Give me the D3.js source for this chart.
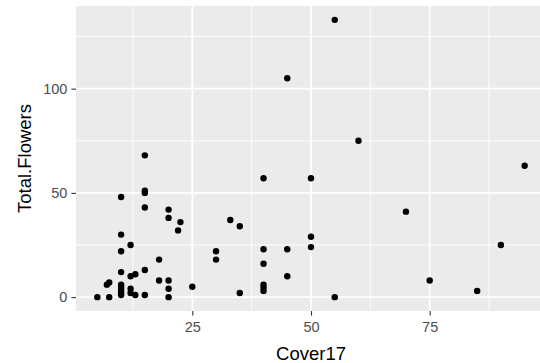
<!DOCTYPE html>
<html>
<head>
<meta charset="utf-8">
<script src="https://cdn.jsdelivr.net/npm/d3@7"></script>
<style>
  html, body { margin: 0; padding: 0; background: #fff; overflow: hidden; }
  svg { display: block; font-family: "Liberation Sans", Arial, sans-serif; }
  .tick-label { fill: #4d4d4d; font-size: 14.5px; }
  .axis-title { fill: #000; font-size: 18.5px; }
</style>
</head>
<body>
<div id="chart"></div>
<script>
const W = 540, H = 363;
const M = { top: 6, right: -6, bottom: 52, left: 76 };

// (Cover17 vs Total.Flowers).
const cover17 = [
  5, 7.5, 7, 7.5,
  10, 10, 10, 10, 10, 10, 10, 10, 10, 10,
  12, 12, 13, 12, 12, 13,
  15, 15, 15, 15, 15, 15,
  18, 18,
  20, 20, 20, 20, 20,
  22, 22.5,
  25, 30, 30, 33, 35, 35,
  40, 40, 40, 40, 40, 40,
  45, 45, 45,
  50, 50, 50,
  55, 55,
  60, 70, 75, 85, 90, 95
];
const totalFlowers = [
  0, 0, 6, 7,
  48, 30, 22, 12, 1, 2, 3, 4, 5, 6,
  25, 10, 11, 4, 2, 1,
  68, 51, 50, 43, 13, 1,
  18, 8,
  42, 38, 8, 4, 0,
  32, 36,
  5, 22, 18, 37, 34, 2,
  57, 23, 16, 6, 4.5, 3,
  105, 23, 10,
  57, 29, 24,
  133, 0,
  75, 41, 8, 3, 25, 63
];

const xTicks = [25, 50, 75];
const yTicks = [0, 50, 100];
const xMinor = [12.5, 37.5, 62.5, 87.5];
const yMinor = [25, 75, 125];

const innerW = W - M.left - M.right;
const innerH = H - M.top - M.bottom;

const svg = d3.select('#chart').append('svg')
  .attr('width', W).attr('height', H).attr('viewBox', `0 0 ${W} ${H}`);
const g = svg.append('g').attr('transform', `translate(${M.left},${M.top})`);

// ggplot-style 5% expansion around the data range.
const xExt = d3.extent(cover17), yExt = d3.extent(totalFlowers);
const xPad = (xExt[1] - xExt[0]) * 0.05, yPad = (yExt[1] - yExt[0]) * 0.05;
const x = d3.scaleLinear().domain([xExt[0] - xPad, xExt[1] + xPad]).range([0, innerW]);
const y = d3.scaleLinear().domain([yExt[0] - yPad, yExt[1] + yPad]).range([innerH, 0]);

g.append('rect').attr('width', innerW).attr('height', innerH).attr('fill', '#ebebeb');

// Grid: minor first, then major.
g.selectAll('.xminor').data(xMinor).join('line')
  .attr('x1', (d) => x(d)).attr('x2', (d) => x(d)).attr('y1', 0).attr('y2', innerH)
  .attr('stroke', '#fff').attr('stroke-width', 0.9);
g.selectAll('.yminor').data(yMinor).join('line')
  .attr('x1', 0).attr('x2', innerW).attr('y1', (d) => y(d)).attr('y2', (d) => y(d))
  .attr('stroke', '#fff').attr('stroke-width', 0.9);
g.selectAll('.xmajor').data(xTicks).join('line')
  .attr('x1', (d) => x(d)).attr('x2', (d) => x(d)).attr('y1', 0).attr('y2', innerH)
  .attr('stroke', '#fff').attr('stroke-width', 1.8);
g.selectAll('.ymajor').data(yTicks).join('line')
  .attr('x1', 0).attr('x2', innerW).attr('y1', (d) => y(d)).attr('y2', (d) => y(d))
  .attr('stroke', '#fff').attr('stroke-width', 1.8);

// Axes via d3, restyled to look like ggplot.
const xAxis = g.append('g')
  .attr('transform', `translate(0,${innerH})`)
  .call(d3.axisBottom(x).tickValues(xTicks).tickSize(4.6).tickPadding(6));
const yAxis = g.append('g')
  .call(d3.axisLeft(y).tickValues(yTicks).tickSize(4.6).tickPadding(4));
for (const a of [xAxis, yAxis]) {
  a.select('.domain').remove();
  a.selectAll('.tick line').attr('stroke', '#333').attr('stroke-width', 1.1);
  a.selectAll('.tick text').attr('class', 'tick-label').attr('fill', null)
    .style('font-family', null).style('font-size', null).attr('font-size', null).attr('font-family', null);
}
xAxis.attr('font-family', null).attr('font-size', null);
yAxis.attr('font-family', null).attr('font-size', null);

g.selectAll('circle').data(cover17.map((c, i) => ({ c, f: totalFlowers[i] })))
  .join('circle')
  .attr('cx', (d) => x(d.c)).attr('cy', (d) => y(d.f))
  .attr('r', 3.2).attr('fill', '#000');

svg.append('text').attr('class', 'axis-title')
  .attr('x', M.left + x(50)).attr('y', 360)
  .attr('text-anchor', 'middle').text('Cover17');
svg.append('text').attr('class', 'axis-title')
  .attr('transform', `translate(31,${M.top + innerH / 2}) rotate(-90)`)
  .attr('text-anchor', 'middle').text('Total.Flowers');
</script>
</body>
</html>
